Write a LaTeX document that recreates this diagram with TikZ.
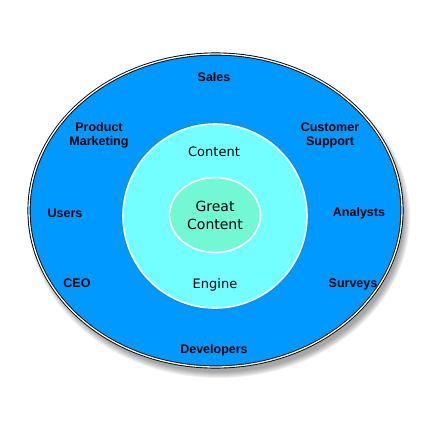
\documentclass[tikz,border=0pt]{standalone}
\usepackage{fontspec}
\setmainfont{Liberation Sans}
\newfontfamily\grandefont{DejaVu Sans}
\usetikzlibrary{shapes.geometric}
\definecolor{ringblue}{HTML}{0099FF}
\definecolor{enginecyan}{HTML}{73FFFF}
\definecolor{coregreen}{HTML}{73F8D4}

\begin{document}
\begin{tikzpicture}[
  x=1pt, y=-1pt,
  role/.style={font=\fontsize{12.5}{14}\selectfont\bfseries, align=center, text=black, inner sep=0pt},
  inner/.style={font=\grandefont\fontsize{13}{16}\selectfont, align=center, text=black, inner sep=0pt},
  ring/.style={ellipse, inner sep=0pt, outer sep=0pt}
]
\useasboundingbox (0,0) rectangle (432,432);

% soft shadow under the outer ring
\foreach \k in {0,...,6}
  \fill[black, opacity=0.06] (219,217) ellipse [x radius=185+\k, y radius=155+\k];

\node[ring, fill=ringblue, draw=black, line width=0.9pt, double=white, double distance=1.3pt,
      minimum width=373, minimum height=313] (outer) at (215.5,210.5) {};
\node[circle, inner sep=0pt, draw=cyan!70!blue, line width=0.5pt, minimum size=187] (enginerim) at (215,216) {};
\node[circle, inner sep=0pt, fill=enginecyan, draw=white, line width=1.6pt, minimum size=184] (engine) at (215,216) {};
\node[ring, fill=coregreen, draw=white, line width=1.6pt, minimum width=91, minimum height=75,
      font=\grandefont\fontsize{14}{18}\selectfont, align=center] (core) at (215,215) {Great\\Content};

\node[inner] (content) at (214,152) {Content};
\node[inner] (enginelbl) at (215,285) {Engine};

\node[role] (sales) at (214,77) {Sales};
\node[role] (prodmkt) at (99,135) {Product\\Marketing};
\node[role] (support) at (330,135) {Customer\\Support};
\node[role] (users) at (65,213) {Users};
\node[role] (analysts) at (359,213) {Analysts};
\node[role] (ceo) at (77,283) {CEO};
\node[role] (surveys) at (353,284) {Surveys};
\node[role] (devs) at (214,350) {Developers};
\end{tikzpicture}
\end{document}
